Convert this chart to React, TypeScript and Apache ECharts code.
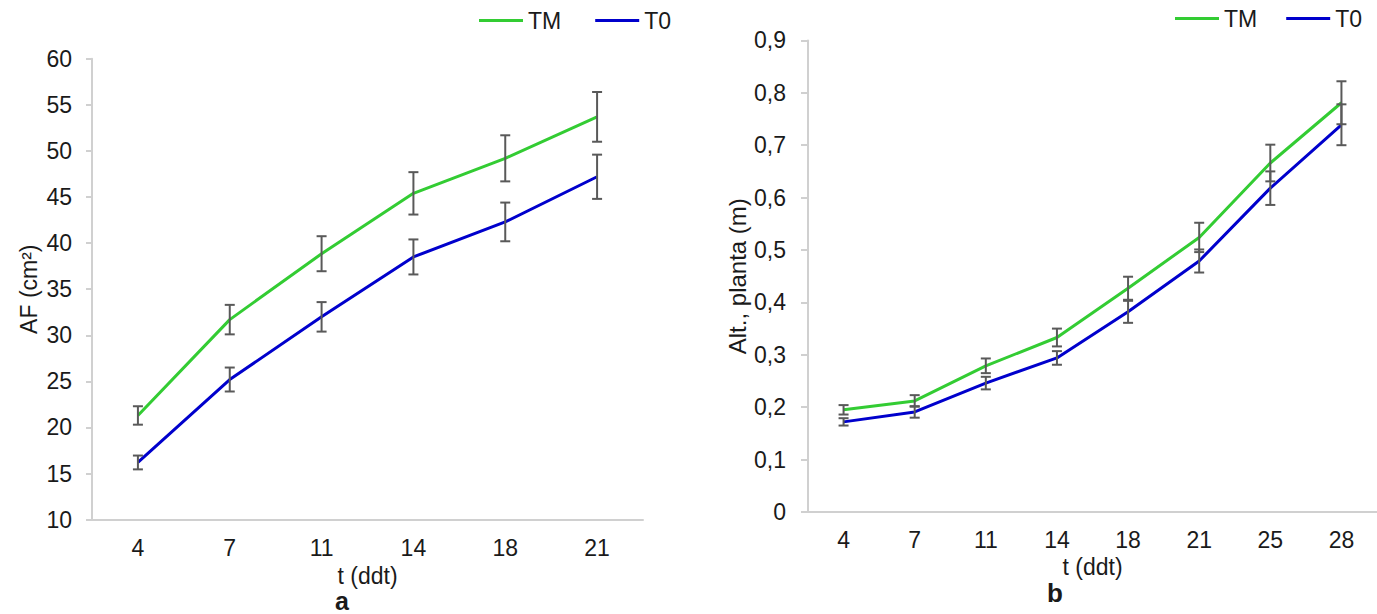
import React, { useEffect, useRef } from "react";
import * as echarts from "echarts";

const catsA = ["4", "7", "11", "14", "18", "21"];
const tmA = [21.3, 31.7, 38.85, 45.4, 49.2, 53.7];
const tmAErr = [1.0, 1.6, 1.9, 2.3, 2.5, 2.7];
const t0A = [16.2, 25.2, 32.0, 38.5, 42.3, 47.2];
const t0AErr = [0.75, 1.3, 1.6, 1.9, 2.1, 2.4];

const catsB = ["4", "7", "11", "14", "18", "21", "25", "28"];
const tmB = [0.195, 0.212, 0.279, 0.333, 0.427, 0.524, 0.666, 0.781];
const tmBErr = [0.009, 0.011, 0.014, 0.017, 0.022, 0.028, 0.035, 0.041];
const t0B = [0.172, 0.191, 0.246, 0.294, 0.382, 0.479, 0.618, 0.739];
const t0BErr = [0.007, 0.011, 0.012, 0.013, 0.021, 0.022, 0.032, 0.039];

const FONT = "'Liberation Sans', Arial, sans-serif";
const GREEN = "#33cc33";
const BLUE = "#0000cc";
const AXIS = "#d0d0d0";
const TXT = "#1a1a1a";
const ERR = "#595959";

function errData(vals: number[], errs: number[]) {
  return vals.map((v, i) => [i, v - errs[i], v + errs[i]]);
}

function errSeries(xi: number, yi: number, data: number[][]) {
  return {
    type: "custom",
    xAxisIndex: xi,
    yAxisIndex: yi,
    z: 5,
    silent: true,
    encode: { x: 0, y: [1, 2] },
    data,
    renderItem: (params: any, api: any) => {
      const x = api.value(0);
      const pLo = api.coord([x, api.value(1)]);
      const pHi = api.coord([x, api.value(2)]);
      const w = 5;
      const st = { stroke: ERR, lineWidth: 2 };
      return {
        type: "group",
        children: [
          { type: "line", shape: { x1: pHi[0], y1: pHi[1], x2: pLo[0], y2: pLo[1] }, style: st },
          { type: "line", shape: { x1: pHi[0] - w, y1: pHi[1], x2: pHi[0] + w, y2: pHi[1] }, style: st },
          { type: "line", shape: { x1: pLo[0] - w, y1: pLo[1], x2: pLo[0] + w, y2: pLo[1] }, style: st },
        ],
      };
    },
  };
}

function lineSeries(name: string, color: string, xi: number, yi: number, data: number[]) {
  return {
    type: "line",
    name,
    xAxisIndex: xi,
    yAxisIndex: yi,
    data,
    symbol: "none",
    z: 3,
    color,
    lineStyle: { color, width: 3 },
  };
}

export default function App() {
  const ref = useRef<HTMLDivElement>(null);
  useEffect(() => {
    if (!ref.current) return;
    const chart = echarts.init(ref.current, null, { renderer: "svg" });
    const axisLabel = { color: TXT, fontSize: 23, fontFamily: FONT };
    const nameStyle = { color: TXT, fontSize: 23, fontFamily: FONT };
    const legendBase = {
      orient: "horizontal",
      padding: 0,
      itemWidth: 44,
      itemHeight: 3,
      icon: "rect",
      textStyle: { color: TXT, fontSize: 23, fontFamily: FONT },
      data: ["TM", "T0"],
    };
    chart.setOption({
      animation: false,
      backgroundColor: "#ffffff",
      legend: [
        { ...legendBase, left: 479, top: 9, itemGap: 34 },
        { ...legendBase, left: 1175, top: 7, itemGap: 29 },
      ],
      grid: [
        { left: 92, top: 58.8, width: 551, height: 460.8, containLabel: false },
        { left: 808, top: 40.4, width: 574, height: 471.6, containLabel: false },
      ],
      xAxis: [
        {
          type: "category",
          gridIndex: 0,
          data: catsA,
          boundaryGap: true,
          axisLine: { lineStyle: { color: AXIS, width: 2 } },
          axisTick: { show: false },
          axisLabel: { ...axisLabel, margin: 17 },
          name: "t (ddt)",
          nameLocation: "middle",
          nameGap: 41,
          nameTextStyle: nameStyle,
        },
        {
          type: "category",
          gridIndex: 1,
          data: catsB,
          boundaryGap: true,
          axisLine: { lineStyle: { color: AXIS, width: 2 } },
          axisTick: { show: false },
          axisLabel: { ...axisLabel, margin: 16 },
          name: "t (ddt)",
          nameLocation: "middle",
          nameGap: 40,
          nameTextStyle: nameStyle,
        },
      ],
      yAxis: [
        {
          type: "value",
          gridIndex: 0,
          min: 10,
          max: 60,
          interval: 5,
          splitLine: { show: false },
          axisLine: { show: true, lineStyle: { color: AXIS, width: 2 } },
          axisTick: { show: true, length: 6, lineStyle: { color: AXIS, width: 2 } },
          axisLabel: { ...axisLabel, margin: 20 },
          name: "AF (cm²)",
          nameLocation: "middle",
          nameGap: 52,
          nameTextStyle: nameStyle,
        },
        {
          type: "value",
          gridIndex: 1,
          min: 0,
          max: 0.9,
          interval: 0.1,
          splitLine: { show: false },
          axisLine: { show: true, lineStyle: { color: AXIS, width: 2 } },
          axisTick: { show: true, length: 7, lineStyle: { color: AXIS, width: 2 } },
          axisLabel: {
            ...axisLabel,
            margin: 22,
            formatter: (v: number) => (Math.round(v * 10) / 10).toString().replace(".", ","),
          },
          name: "Alt., planta (m)",
          nameLocation: "middle",
          nameGap: 59,
          nameTextStyle: { ...nameStyle, fontSize: 24 },
        },
      ],
      series: [
        lineSeries("TM", GREEN, 0, 0, tmA),
        lineSeries("T0", BLUE, 0, 0, t0A),
        lineSeries("TM", GREEN, 1, 1, tmB),
        lineSeries("T0", BLUE, 1, 1, t0B),
        errSeries(0, 0, errData(tmA, tmAErr)),
        errSeries(0, 0, errData(t0A, t0AErr)),
        errSeries(1, 1, errData(tmB, tmBErr)),
        errSeries(1, 1, errData(t0B, t0BErr)),
      ],
      graphic: [
        {
          type: "text",
          left: 335,
          top: 588,
          style: { text: "a", fontSize: 25, fontWeight: "bold", fontFamily: FONT, fill: TXT },
        },
        {
          type: "text",
          left: 1047,
          top: 580,
          style: { text: "b", fontSize: 26, fontWeight: "bold", fontFamily: FONT, fill: TXT },
        },
      ],
    });
    return () => chart.dispose();
  }, []);
  return (
    <div
      ref={ref}
      style={{ position: "fixed", left: 0, top: 0, width: 1377, height: 614, background: "#fff" }}
    />
  );
}
